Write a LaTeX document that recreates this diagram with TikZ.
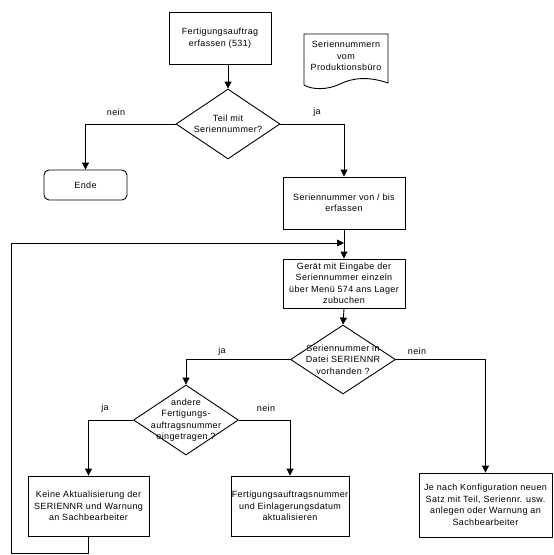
\documentclass[tikz,border=0pt]{standalone}
\usepackage{fontspec}
\setmainfont[LetterSpace=4]{Liberation Sans}
\usetikzlibrary{shapes.geometric,arrows.meta}
\begin{document}
\begin{tikzpicture}[x=1pt,y=-1pt,
  every node/.style={font=\fontsize{9}{11.5}\selectfont, align=center, inner sep=0pt},
  procbox/.style={draw, line width=0.9pt, rectangle},
  dia/.style={draw, line width=0.9pt, diamond, inner sep=0pt},
  line/.style={line width=0.9pt},
  arr/.style={line width=0.9pt, -{Triangle[width=7pt,length=7pt]}}
]
\useasboundingbox (0,0) rectangle (554,555);

% nodes
\node[procbox, minimum width=102, minimum height=52] (b1) at (220,38) {Fertigungsauftrag\\erfassen (531)};
\draw[line] (304,34) -- (388,34) -- (388,83)
  .. controls (368,76) and (352,78) .. (340,84)
  .. controls (328,90) and (312,90) .. (304,85) -- cycle;
\node (doc) at (346,56) {Seriennummern\\vom\\Produktionsbüro};

\node[dia, minimum width=104, minimum height=70] (d1) at (228,124) {};
\node (d1t) at (d1) {Teil mit\\Seriennummer?};

\node[procbox, rounded corners=5pt, minimum width=83, minimum height=30] (ende) at (85.5,185) {Ende};

\node[procbox, minimum width=122, minimum height=52] (b2) at (344,203) {Seriennummer von / bis\\erfassen};
\node[procbox, minimum width=122, minimum height=49] (b3) at (344,283.5) {Gerät mit Eingabe der\\Seriennummer einzeln\\über Menü 574 ans Lager\\zubuchen};

\node[dia, minimum width=105, minimum height=69] (d2) at (343,359.5) {};
\node (d2t) at (d2) {Seriennummer in\\Datei SERIENNR\\vorhanden ?};

\node[dia, minimum width=105, minimum height=70] (d3) at (186,420) {};
\node (d3t) at (d3) {andere\\Fertigungs-\\auftragsnummer\\eingetragen ?};

\node[procbox, minimum width=121, minimum height=60] (k) at (88.5,506) {Keine Aktualisierung der\\SERIENNR und Warnung\\an Sachbearbeiter};
\node[procbox, minimum width=118, minimum height=60] (f) at (290,506) {Fertigungsauftragsnummer\\und Einlagerungsdatum\\aktualisieren};
\node[procbox, minimum width=133, minimum height=64] (j) at (485.5,505) {Je nach Konfiguration neuen\\Satz mit Teil, Seriennr. usw.\\anlegen oder Warnung an\\Sachbearbeiter};

% labels
\node (n1) at (116,112) {nein};
\node (j1) at (317,112) {ja};
\node (j2) at (222,351) {ja};
\node (n2) at (417,351) {nein};
\node (j3) at (105,408) {ja};
\node (n3) at (266,408) {nein};

% coordinates
\coordinate (m) at (344,243);
\coordinate (l1) at (11,553);

% connectors
\draw[arr] (b1.south -| d1.north) -- (d1.north);
\draw[arr] (d1.west) -| (ende.north);
\draw[arr] (d1.east) -| (b2.north);
\draw[arr] (b2.south) -- (b3.north);
\draw[arr] (b3.south) -- (d2.north);
\draw[arr] (d2.west) -| (d3.north);
\draw[arr] (d2.east) -| (j.north);
\draw[arr] (d3.west) -| (k.north);
\draw[arr] (d3.east) -| (f.north);
\draw[arr] (k.south) |- (l1) |- (m);
\end{tikzpicture}
\end{document}
